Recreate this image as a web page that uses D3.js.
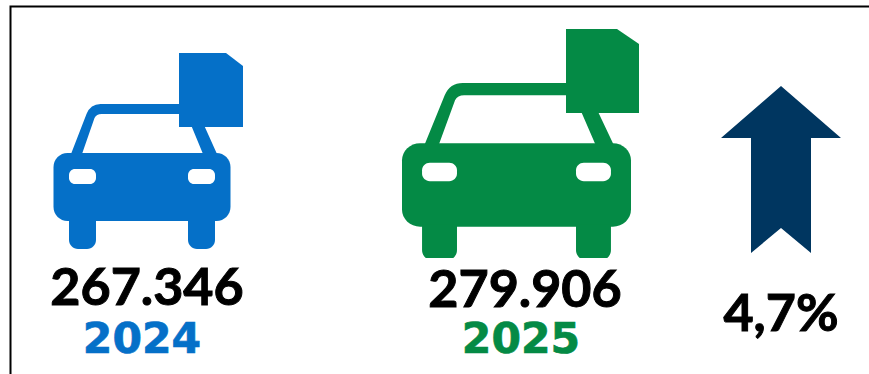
<!DOCTYPE html>
<html>
<head>
<meta charset="utf-8">
<script src="https://cdn.jsdelivr.net/npm/d3@7"></script>
<style>
  html, body { margin: 0; padding: 0; background: #fff; }
  svg { display: block; }
</style>
</head>
<body>
<svg id="chart" width="869" height="374"></svg>
<script>
// Vehicle counts per year and the change between them
const years = ["2024", "2025"];
const vehicles = [267346, 279906];
const yearColors = ["#0570c8", "#048a45"];
const changePercent = [4.7];

const locale = d3.formatLocale({ decimal: ",", thousands: ".", grouping: [3], currency: ["", ""] });
const formatCount = locale.format(",d");
const formatChange = v => locale.format(".1f")(v) + "%";

const svg = d3.select("#chart");
svg.append("rect").attr("width", 869).attr("height", 374).attr("fill", "#fff");

// Panel frame, open to the right and below
svg.append("path")
  .attr("d", "M10.5,374V6.5H869")
  .attr("fill", "none").attr("stroke", "#000").attr("stroke-width", 2);

// Placement of each car icon, in page pixels
const carBoxes = [
  { x: [53.5, 230.5], y: [104, 249], clipY: 249, tag: { x: [179, 243], y: [53, 127], cutX: 226, cutY: 66 },
    valueX: 147, valueY: 305, yearX: 142, yearY: 353 },
  { x: [402, 631], y: [83, 261], clipY: 258, tag: { x: [566, 639], y: [29, 113], cutX: 617, cutY: 44 },
    valueX: 525, valueY: 307, yearX: 521, yearY: 353 }
];

// Car outline on a 177 x 145 grid: cabin, body, wheels and headlights
function drawCar(g, box, color, i) {
  const x = d3.scaleLinear().domain([0, 177]).range(box.x);
  const y = d3.scaleLinear().domain([0, 145]).range(box.y);

  const roundedRect = (p, x0, x1, y0, y1, r, flatTop) => {
    const rx = x(r) - x(0), ry = y(r) - y(0);
    const k = 0.45;
    p.moveTo(x(x0) + (flatTop ? 0 : rx), y(y0));
    p.lineTo(x(x1) - (flatTop ? 0 : rx), y(y0));
    if (!flatTop) p.bezierCurveTo(x(x1) - rx * k, y(y0), x(x1), y(y0) + ry * k, x(x1), y(y0) + ry);
    p.lineTo(x(x1), y(y1) - ry);
    p.bezierCurveTo(x(x1), y(y1) - ry * k, x(x1) - rx * k, y(y1), x(x1) - rx, y(y1));
    p.lineTo(x(x0) + rx, y(y1));
    p.bezierCurveTo(x(x0) + rx * k, y(y1), x(x0), y(y1) - ry * k, x(x0), y(y1) - ry);
    p.lineTo(x(x0), flatTop ? y(y0) : y(y0) + ry);
    if (!flatTop) p.bezierCurveTo(x(x0), y(y0) + ry * k, x(x0) + rx * k, y(y0), x(x0) + rx, y(y0));
    p.closePath();
  };

  g.append("clipPath").attr("id", "car-clip-" + i)
    .append("rect").attr("x", 0).attr("y", 0).attr("width", 869).attr("height", box.clipY);
  const car = g.append("g").attr("clip-path", `url(#car-clip-${i})`);

  // Cabin ring: outer outline with the windscreen cut out
  const cabin = d3.path();
  cabin.moveTo(x(17.5), y(50));
  cabin.lineTo(x(33), y(10));
  cabin.quadraticCurveTo(x(37), y(0), x(47), y(0));
  cabin.lineTo(x(141), y(0));
  cabin.lineTo(x(163.5), y(50));
  cabin.closePath();
  cabin.moveTo(x(28.5), y(50));
  cabin.lineTo(x(41), y(14));
  cabin.quadraticCurveTo(x(43), y(10), x(48), y(10));
  cabin.lineTo(x(133), y(10));
  cabin.lineTo(x(149.5), y(50));
  cabin.closePath();
  car.append("path").attr("d", cabin.toString()).attr("fill", color).attr("fill-rule", "evenodd");

  // Body and the two wheels
  const body = d3.path();
  roundedRect(body, 0, 177, 49, 117, 14);
  car.append("path").attr("d", body.toString()).attr("fill", color);
  [[15.5, 42.5], [134.5, 161.5]].forEach(([a, b]) => {
    const wheel = d3.path();
    roundedRect(wheel, a, b, 115, 145, 9, true);
    car.append("path").attr("d", wheel.toString()).attr("fill", color);
  });

  // Headlights
  [[15.5, 42.5], [134.5, 161.5]].forEach(([a, b]) => {
    const lamp = d3.path();
    roundedRect(lamp, a, b, 65, 80, 6);
    car.append("path").attr("d", lamp.toString()).attr("fill", "#fff");
  });

  // Document tag with a clipped corner, sitting on the roof
  const t = box.tag;
  g.append("path")
    .attr("d", d3.line()([
      [t.x[0], t.y[0]], [t.cutX, t.y[0]], [t.x[1], t.cutY],
      [t.x[1], t.y[1]], [t.x[0], t.y[1]]
    ]) + "Z")
    .attr("fill", color);
}

// Large black figures, thickened slightly with a hairline stroke
const bigLabel = (sel) => sel
  .attr("text-anchor", "middle")
  .attr("font-family", "Lato").attr("font-weight", 700).attr("font-size", 52)
  .attr("fill", "#000").attr("stroke", "#000").attr("stroke-width", 1);

carBoxes.forEach((box, i) => {
  const g = svg.append("g");
  drawCar(g, box, yearColors[i], i);
  g.append("text")
    .attr("x", box.valueX).attr("y", box.valueY)
    .call(bigLabel)
    .text(formatCount(vehicles[i]));
  g.append("text")
    .attr("x", box.yearX).attr("y", box.yearY)
    .attr("text-anchor", "middle")
    .attr("font-family", "DejaVu Sans").attr("font-weight", 700).attr("font-size", 42.5)
    .attr("fill", yearColors[i]).attr("stroke", yearColors[i]).attr("stroke-width", 0.7)
    .text(years[i]);
});

// Upward arrow with a notched tail, on a 120 x 167 grid
const ax = d3.scaleLinear().domain([0, 120]).range([721, 841]);
const ay = d3.scaleLinear().domain([0, 167]).range([86, 253]);
svg.append("path")
  .attr("d", d3.line().x(d => ax(d[0])).y(d => ay(d[1]))([
    [60, 0], [120, 52], [90, 52], [90, 167], [60, 142], [30, 167], [30, 52], [0, 52]
  ]) + "Z")
  .attr("fill", "#003660");

svg.append("text")
  .attr("x", 781).attr("y", 331)
  .call(bigLabel)
  .text(formatChange(changePercent[0]));
</script>
</body>
</html>
